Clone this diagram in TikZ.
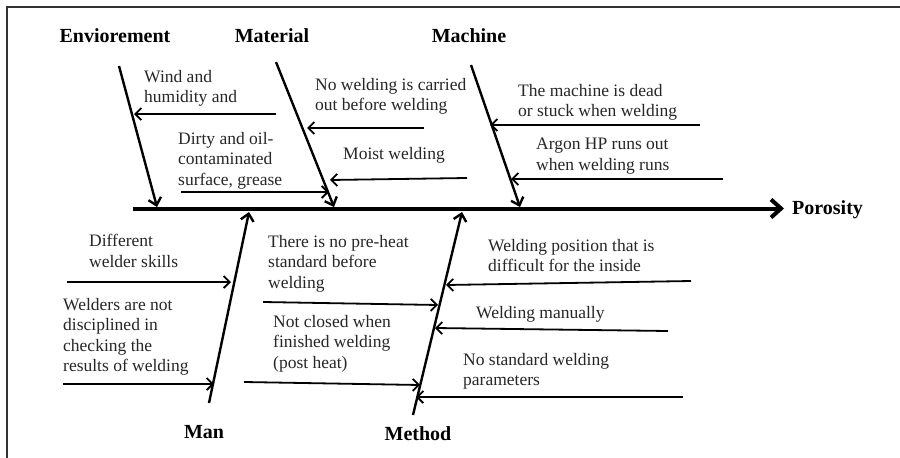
\documentclass[tikz,border=0pt]{standalone}
\usepackage{fontspec}
\setmainfont{Liberation Serif}
\usetikzlibrary{arrows.meta}
\begin{document}
\begin{tikzpicture}[x=1pt,y=-1pt,
  category/.style={font=\fontsize{20}{22}\selectfont\bfseries, inner sep=0pt},
  cause/.style={font=\fontsize{17.5}{20.5}\selectfont, text=black!85, align=left, anchor=north west, inner sep=0pt},
  spine/.style={line width=4pt, -{Straight Barb[length=10pt,width=18pt]}},
  bone/.style={line width=2.4pt, -{Straight Barb[length=7pt,width=13pt]}},
  causearrow/.style={line width=1.8pt, -{Straight Barb[length=6pt,width=12pt]}}
]
\useasboundingbox (0,0) rectangle (900,458);
% frame
\draw[line width=1.6pt, black!80] (7,458) -- (7,7) -- (900,7);

% spine and effect
\coordinate (head0) at (133,208.5);
\coordinate (head1) at (784,208.5);
\node[category, anchor=west] (effect) at (792,210) {Porosity};
\draw[spine] (head0) -- (head1);

% category labels
\node[category] (env) at (115,36) {Enviorement};
\node[category] (mat) at (272,36) {Material};
\node[category] (mach) at (469,36) {Machine};
\node[category] (man) at (204,432) {Man};
\node[category] (meth) at (418,434) {Method};

% bones
\coordinate (envA) at (119,66);   \coordinate (envB) at (157,207);
\coordinate (matA) at (276,62);   \coordinate (matB) at (334,207);
\coordinate (machA) at (471,65);  \coordinate (machB) at (520,207);
\coordinate (manA) at (209,403);  \coordinate (manB) at (249,212);
\coordinate (methA) at (413,415); \coordinate (methB) at (462,212);
\draw[bone] (envA) -- (envB);
\draw[bone] (matA) -- (matB);
\draw[bone] (machA) -- (machB);
\draw[bone] (manA) -- (manB);
\draw[bone] (methA) -- (methB);

% Enviorement causes
\node[cause] (c1) at (144,70) {Wind and\\humidity and};
\coordinate (c1s) at (276,114); \coordinate (c1e) at (134,114);
\draw[causearrow] (c1s) -- (c1e);
\node[cause] (c2) at (178,132) {Dirty and oil-\\contaminated\\surface, grease};
\coordinate (c2s) at (181,192); \coordinate (c2e) at (329,192);
\draw[causearrow] (c2s) -- (c2e);

% Material causes
\node[cause] (c3) at (315,78) {No welding is carried\\out before welding};
\coordinate (c3s) at (424,128); \coordinate (c3e) at (307,128);
\draw[causearrow] (c3s) -- (c3e);
\node[cause] (c4) at (343,147) {Moist welding};
\coordinate (c4s) at (467,178); \coordinate (c4e) at (330,180);
\draw[causearrow] (c4s) -- (c4e);

% Machine causes
\node[cause] (c5) at (518,84) {The machine is dead\\or stuck when welding};
\coordinate (c5s) at (700,125); \coordinate (c5e) at (490,125);
\draw[causearrow] (c5s) -- (c5e);
\node[cause] (c6) at (536,138) {Argon HP runs out\\when welding runs};
\coordinate (c6s) at (723,179); \coordinate (c6e) at (511,179);
\draw[causearrow] (c6s) -- (c6e);

% Man causes
\node[cause] (c7) at (89,234) {Different\\welder skills};
\coordinate (c7s) at (67,282); \coordinate (c7e) at (231,282);
\draw[causearrow] (c7s) -- (c7e);
\node[cause] (c8) at (63,298) {Welders are not\\disciplined in\\checking the\\results of welding};
\coordinate (c8s) at (63,384); \coordinate (c8e) at (214,384);
\draw[causearrow] (c8s) -- (c8e);

% Method causes
\node[cause] (c9) at (268,235) {There is no pre-heat\\standard before\\welding};
\coordinate (c9s) at (263,302); \coordinate (c9e) at (438,305);
\draw[causearrow] (c9s) -- (c9e);
\node[cause] (c10) at (273,315) {Not closed when\\finished welding\\(post heat)};
\coordinate (c10s) at (244,382); \coordinate (c10e) at (420,385);
\draw[causearrow] (c10s) -- (c10e);
\node[cause] (c11) at (488,239) {Welding position that is\\difficult for the inside};
\coordinate (c11s) at (691,281); \coordinate (c11e) at (446,285);
\draw[causearrow] (c11s) -- (c11e);
\node[cause] (c12) at (476,306) {Welding manually};
\coordinate (c12s) at (668,331); \coordinate (c12e) at (435,328);
\draw[causearrow] (c12s) -- (c12e);
\node[cause] (c13) at (463,353) {No standard welding\\parameters};
\coordinate (c13s) at (683,397); \coordinate (c13e) at (416,397);
\draw[causearrow] (c13s) -- (c13e);
\end{tikzpicture}
\end{document}
